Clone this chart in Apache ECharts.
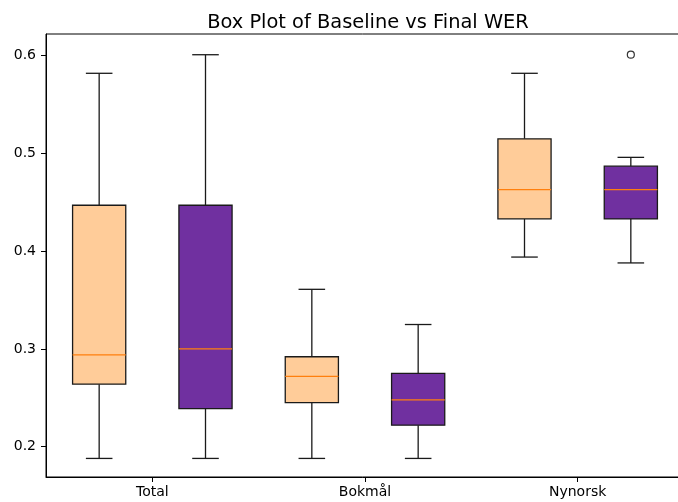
<!DOCTYPE html>
<html>
<head>
<meta charset="utf-8">
<script src="https://cdn.jsdelivr.net/npm/echarts@6/dist/echarts.min.js"></script>
<style>
html,body{margin:0;padding:0;background:#fff;}
#chart{width:678px;height:502px;}
</style>
</head>
<body>
<div id="chart"></div>
<script>
// ---- data ----
const categories = ['Total', 'Bokmål', 'Nynorsk'];
// [min, Q1, median, Q3, max]
const baselineStats = [
  [0.188, 0.264, 0.294, 0.447, 0.582],
  [0.188, 0.245, 0.272, 0.292, 0.361],
  [0.394, 0.433, 0.463, 0.515, 0.582]
];
const finalStats = [
  [0.188, 0.239, 0.300, 0.447, 0.601],
  [0.188, 0.222, 0.248, 0.275, 0.325],
  [0.388, 0.433, 0.463, 0.487, 0.496]
];
// outliers of the final series: [categoryIndex, value]
const finalOutliers = [[2, 0.601]];
const yTickLabels = [0.2, 0.3, 0.4, 0.5, 0.6];

// ---- layout constants ----
const BOX_WIDTH = 0.5;
const basePos = i => 2 * i + 1;
const finalPos = i => 2 * i + 2;
const catTickPositions = categories.map((c, i) => 2 * i + 1.5);

const baselineData = baselineStats.map((s, i) => [basePos(i)].concat(s));
const finalData = finalStats.map((s, i) => [finalPos(i)].concat(s));
const outlierData = finalOutliers.map(o => [finalPos(o[0]), o[1]]);

function makeRender(fill) {
  return function (params, api) {
    const x = api.value(0);
    const pMin = api.coord([x, api.value(1)]);
    const pQ1 = api.coord([x, api.value(2)]);
    const pMed = api.coord([x, api.value(3)]);
    const pQ3 = api.coord([x, api.value(4)]);
    const pMax = api.coord([x, api.value(5)]);
    const cx = pMin[0];
    const half = api.size([BOX_WIDTH, 0])[0] / 2;
    const cap = half / 2;
    const lineStyle = { stroke: '#1a1a1a', lineWidth: 1.3 };
    return {
      type: 'group',
      children: [
        { type: 'line', shape: { x1: cx, y1: pMin[1], x2: cx, y2: pQ1[1] }, style: lineStyle },
        { type: 'line', shape: { x1: cx, y1: pQ3[1], x2: cx, y2: pMax[1] }, style: lineStyle },
        { type: 'line', shape: { x1: cx - cap, y1: pMin[1], x2: cx + cap, y2: pMin[1] }, style: lineStyle },
        { type: 'line', shape: { x1: cx - cap, y1: pMax[1], x2: cx + cap, y2: pMax[1] }, style: lineStyle },
        { type: 'rect', shape: { x: cx - half, y: pQ3[1], width: 2 * half, height: pQ1[1] - pQ3[1] },
          style: { fill: fill, stroke: '#1a1a1a', lineWidth: 1.3 } },
        { type: 'line', shape: { x1: cx - half, y1: pMed[1], x2: cx + half, y2: pMed[1] },
          style: { stroke: '#ff7f0e', lineWidth: 1.3 } }
      ]
    };
  };
}

const chart = echarts.init(document.getElementById('chart'), null, { renderer: 'canvas' });
const font = 'DejaVu Sans';
chart.setOption({
  animation: false,
  backgroundColor: '#fff',
  title: {
    text: 'Box Plot of Baseline vs Final WER',
    left: 363,
    top: 8,
    textAlign: 'center',
    textStyle: { fontFamily: font, fontSize: 19.4, fontWeight: 'normal', color: '#000' }
  },
  grid: {
    left: 46, right: -6, top: 34, bottom: 25,
    show: true, borderColor: '#000', borderWidth: 1, backgroundColor: 'transparent',
    outerBoundsMode: 'none'
  },
  xAxis: {
    type: 'value', min: 0.5, max: 6.5,
    axisLine: { show: true, lineStyle: { color: '#000', width: 1 } },
    axisTick: { show: true, length: 5, lineStyle: { color: '#000' }, customValues: catTickPositions },
    axisLabel: {
      customValues: catTickPositions, margin: 8,
      fontFamily: font, fontSize: 14, color: '#000',
      formatter: function (v) {
        let best = 0;
        catTickPositions.forEach((p, i) => { if (Math.abs(p - v) < Math.abs(catTickPositions[best] - v)) best = i; });
        return categories[best];
      }
    },
    splitLine: { show: false }
  },
  yAxis: {
    type: 'value', min: 0.169, max: 0.6222,
    axisLine: { show: true, lineStyle: { color: '#000', width: 1 } },
    axisTick: { show: true, length: 5, lineStyle: { color: '#000' }, customValues: yTickLabels },
    axisLabel: {
      customValues: yTickLabels, margin: 10,
      fontFamily: font, fontSize: 14, color: '#000',
      formatter: v => v.toFixed(1)
    },
    splitLine: { show: false }
  },
  series: [
    { name: 'Baseline', type: 'custom', renderItem: makeRender('#FFCC99'), data: baselineData,
      encode: { x: 0, y: [1, 2, 3, 4, 5] } },
    { name: 'Final', type: 'custom', renderItem: makeRender('#7030A0'), data: finalData,
      encode: { x: 0, y: [1, 2, 3, 4, 5] } },
    { name: 'Outliers', type: 'scatter', data: outlierData, symbol: 'circle', symbolSize: 7,
      itemStyle: { color: 'transparent', borderColor: '#000', borderWidth: 1.2 } }
  ]
});
</script>
</body>
</html>
